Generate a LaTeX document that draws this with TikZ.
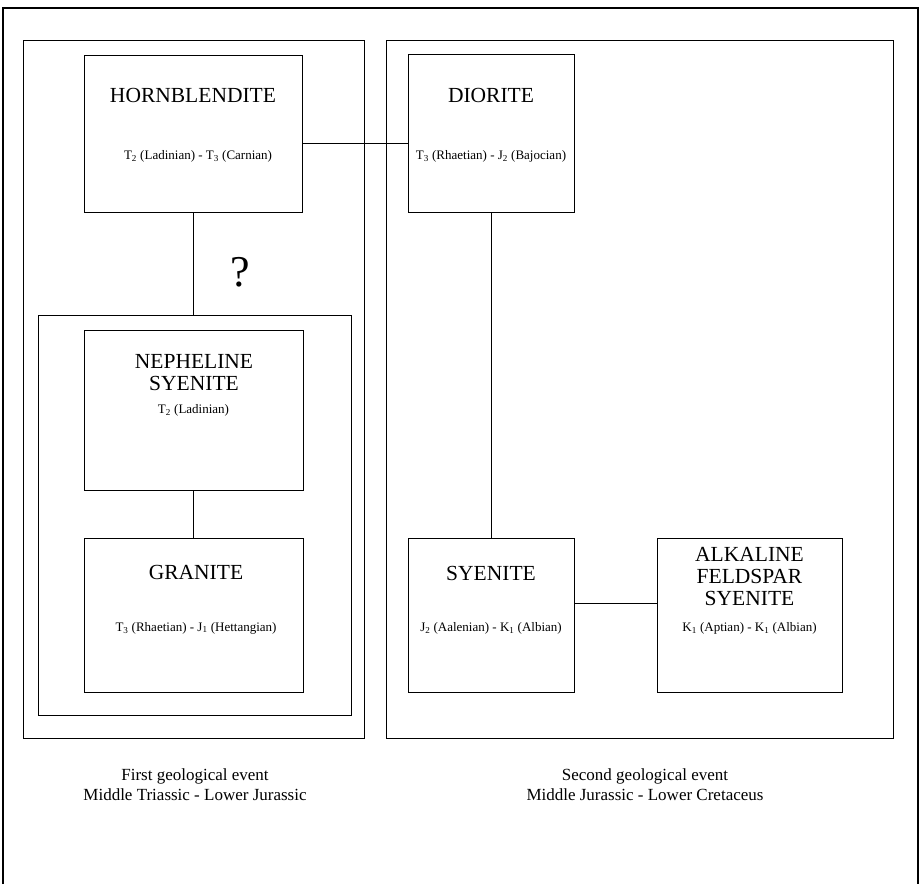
\documentclass[tikz,border=0pt]{standalone}
\usepackage{fontspec}
\setmainfont{Liberation Serif}
\begin{document}
\begin{tikzpicture}[x=1pt,y=-1pt,
  box/.style={draw, line width=0.8pt, inner sep=0pt},
  ttl/.style={font=\fontsize{21.5}{22}\selectfont, align=center, inner sep=0pt},
  sub/.style={font=\fontsize{13}{15}\selectfont, inner sep=0pt},
  captxt/.style={font=\fontsize{17}{20}\selectfont, align=center, inner sep=0pt},
  link/.style={line width=0.7pt}]
\useasboundingbox (0,0) rectangle (924,884);
\fill[white] (0,0) rectangle (924,884);
% outer frame
\draw[line width=1.2pt] (3,884) -- (3,8) -- (918,8) -- (918,884);
% group boxes
\node[box, minimum width=341, minimum height=698] (leftgrp) at (193.5,389) {};
\node[box, minimum width=507, minimum height=698] (rightgrp) at (639.5,389) {};
\node[box, minimum width=313, minimum height=400] (inner) at (194.5,515) {};
% rock boxes
\node[box, minimum width=218, minimum height=157] (horn) at (193,133.5) {};
\node[box, minimum width=219, minimum height=160] (neph) at (193.5,410) {};
\node[box, minimum width=219, minimum height=154] (gran) at (193.5,615) {};
\node[box, minimum width=166, minimum height=158] (dior) at (491,133) {};
\node[box, minimum width=166, minimum height=154] (syen) at (491,615) {};
\node[box, minimum width=185, minimum height=154] (alk) at (749.5,615) {};
% texts
\node[ttl] (hornT) at (193,95) {HORNBLENDITE};
\node[sub] (hornS) at (198,156) {T\textsubscript{2} (Ladinian) - T\textsubscript{3} (Carnian)};
\node[ttl] (nephT) at (194,373) {NEPHELINE\\SYENITE};
\node[sub] (nephS) at (193.5,410) {T\textsubscript{2} (Ladinian)};
\node[ttl] (granT) at (196,572) {GRANITE};
\node[sub] (granS) at (196,628) {T\textsubscript{3} (Rhaetian) - J\textsubscript{1} (Hettangian)};
\node[ttl] (diorT) at (491,95) {DIORITE};
\node[sub] (diorS) at (491,156) {T\textsubscript{3} (Rhaetian) - J\textsubscript{2} (Bajocian)};
\node[ttl] (syenT) at (491,573) {SYENITE};
\node[sub] (syenS) at (491,628) {J\textsubscript{2} (Aalenian) - K\textsubscript{1} (Albian)};
\node[ttl] (alkT) at (749.5,576) {ALKALINE\\FELDSPAR\\SYENITE};
\node[sub] (alkS) at (749.5,628) {K\textsubscript{1} (Aptian) - K\textsubscript{1} (Albian)};
\node[font=\fontsize{44}{48}\selectfont, inner sep=0pt] (qm) at (240,272) {?};
% captions
\node[captxt] (cap1) at (195,785) {First geological event\\Middle Triassic - Lower Jurassic};
\node[captxt] (cap2) at (645,785) {Second geological event\\Middle Jurassic - Lower Cretaceus};
% connectors
\draw[link] ([yshift=-9.5]horn.east) -- ([yshift=-9.5]horn.east -| dior.west);
\draw[link] (horn.south) -- (horn.south |- inner.north);
\draw[link] (neph.south) -- (gran.north);
\draw[link] (dior.south) -- (syen.north);
\draw[link] ([yshift=12]syen.east) -- ([yshift=12]alk.west);
\end{tikzpicture}
\end{document}
